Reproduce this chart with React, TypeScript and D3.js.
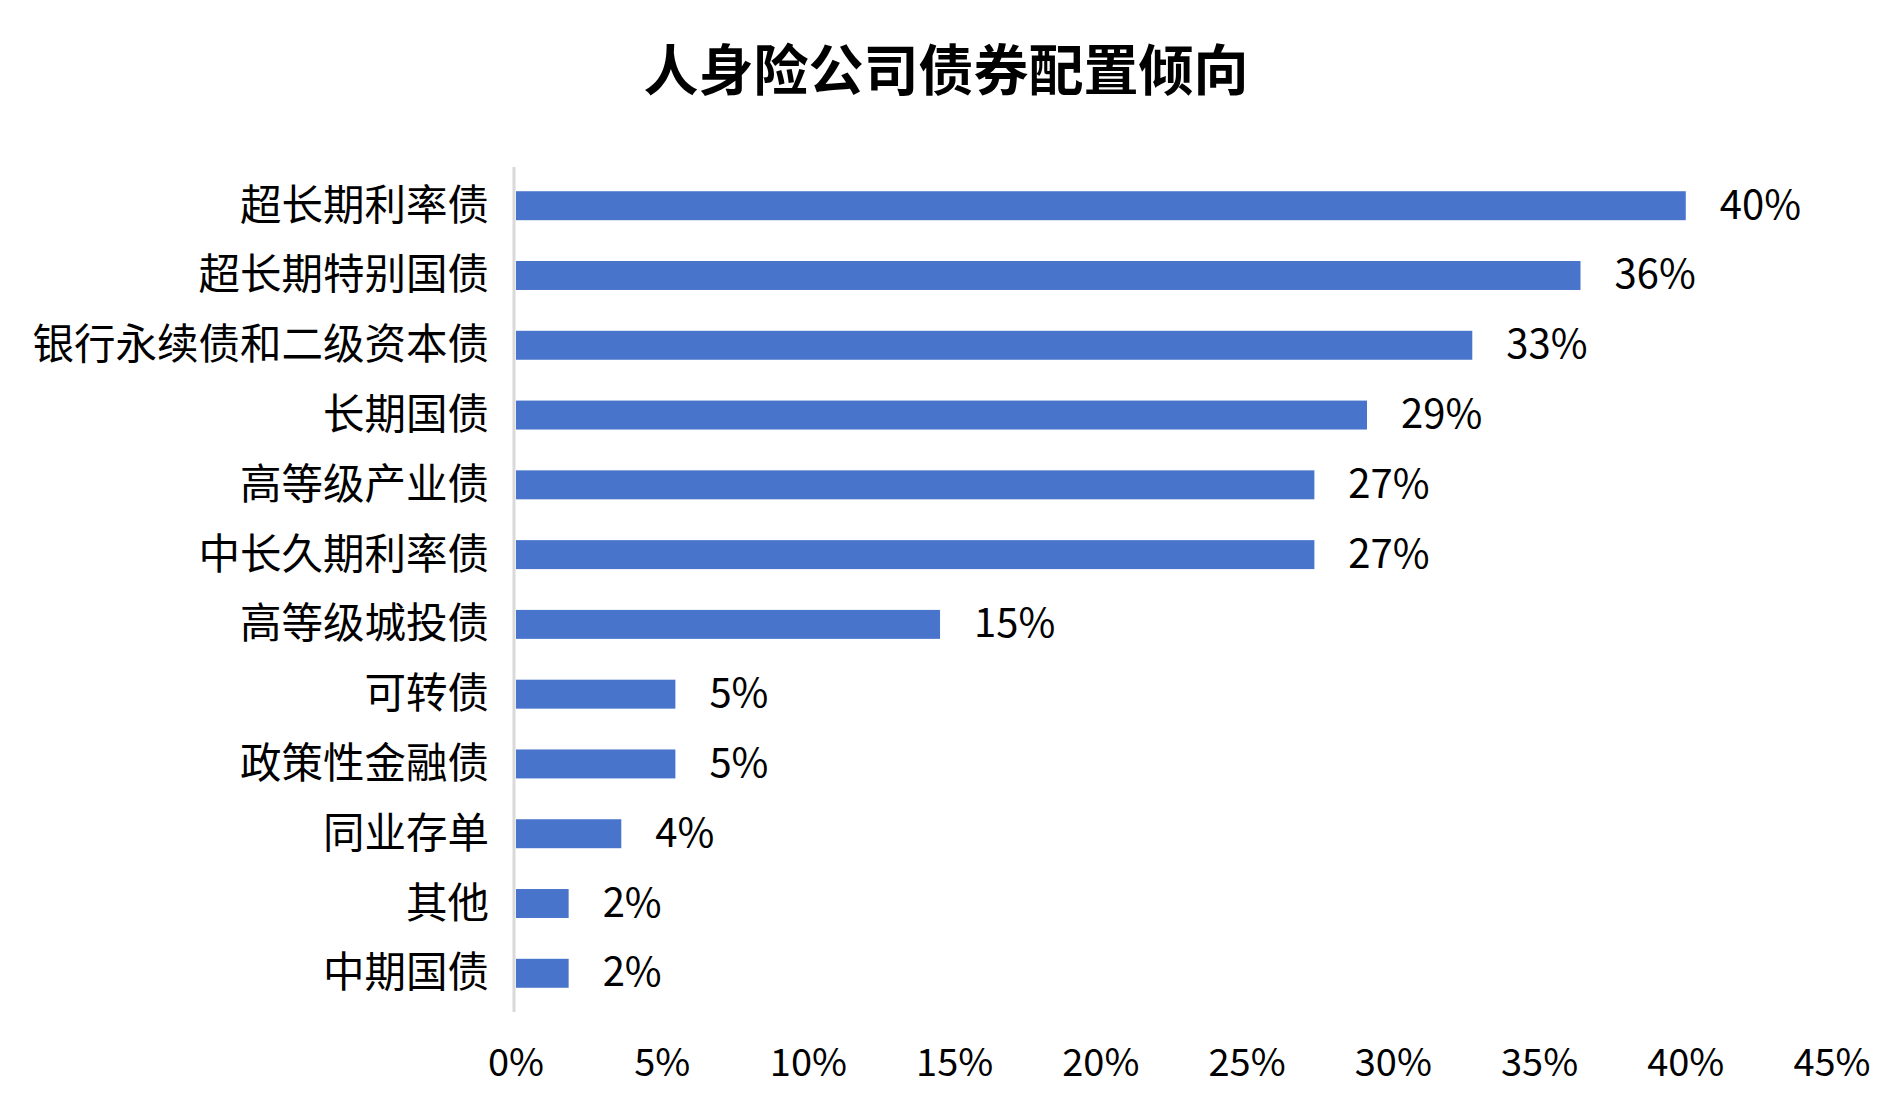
import { useEffect, useRef } from "react";
import * as d3 from "d3";

// Categories, top to bottom
const categories = [
    "超长期利率债",
    "超长期特别国债",
    "银行永续债和二级资本债",
    "长期国债",
    "高等级产业债",
    "中长久期利率债",
    "高等级城投债",
    "可转债",
    "政策性金融债",
    "同业存单",
    "其他",
    "中期国债",
];

// Share of companies (%)
const shares = [40.0, 36.4, 32.7, 29.1, 27.3, 27.3, 14.5, 5.45, 5.45, 3.6, 1.8, 1.8];

// X axis ticks (%)
const xTicks = [0, 5, 10, 15, 20, 25, 30, 35, 40, 45];

const title = "人身险公司债券配置倾向";

export default function App() {
    const svgRef = useRef<SVGSVGElement | null>(null);

    useEffect(() => {
        if (!svgRef.current) return;

        d3.select(svgRef.current).selectAll("*").remove();

        const width = 1892;
        const height = 1120;
        const margin = { top: 171, right: 60, bottom: 112, left: 516 };
        const font = "'Noto Sans CJK SC', 'Noto Sans', sans-serif";

        const data = categories.map((c, i) => ({ category: c, value: shares[i] }));

        const svg = d3
            .select(svgRef.current)
            .attr("width", width)
            .attr("height", height)
            .style("font-family", font);

        svg.append("rect").attr("width", width).attr("height", height).attr("fill", "#ffffff");

        // Scales
        const x = d3.scaleLinear().domain([0, 45]).range([margin.left, margin.left + 1316]);

        const y = d3
            .scaleBand()
            .domain(categories)
            .range([margin.top, height - margin.bottom])
            .paddingInner(0.585)
            .paddingOuter(0.29);

        // Title
        svg.append("text")
            .attr("x", 946)
            .attr("y", 66)
            .attr("text-anchor", "middle")
            .attr("dominant-baseline", "central")
            .attr("font-size", "55px")
            .attr("font-weight", "bold")
            .attr("fill", "#000000")
            .text(title);

        // Bars
        svg.selectAll(".bar")
            .data(data)
            .enter()
            .append("rect")
            .attr("class", "bar")
            .attr("x", x(0))
            .attr("y", (d) => y(d.category) || 0)
            .attr("width", (d) => x(d.value) - x(0))
            .attr("height", y.bandwidth())
            .attr("fill", "#4874cb");

        // Vertical axis line
        svg.append("line")
            .attr("x1", x(0) - 2)
            .attr("x2", x(0) - 2)
            .attr("y1", margin.top - 4)
            .attr("y2", height - margin.bottom + 4)
            .attr("stroke", "#d9d9d9")
            .attr("stroke-width", 3);

        // Category labels
        svg.selectAll(".cat")
            .data(data)
            .enter()
            .append("text")
            .attr("class", "cat")
            .attr("x", 489)
            .attr("y", (d) => (y(d.category) || 0) + y.bandwidth() / 2 - 4)
            .attr("text-anchor", "end")
            .attr("dominant-baseline", "central")
            .attr("font-size", "41.5px")
            .attr("fill", "#000000")
            .text((d) => d.category);

        // Value labels
        svg.selectAll(".label")
            .data(data)
            .enter()
            .append("text")
            .attr("class", "label")
            .attr("x", (d) => x(d.value) + 34)
            .attr("y", (d) => (y(d.category) || 0) + y.bandwidth() / 2 - 4)
            .attr("dominant-baseline", "central")
            .attr("font-size", "40px")
            .attr("fill", "#000000")
            .text((d) => `${Math.round(d.value)}%`);

        // X tick labels (no axis line, no tick marks)
        svg.selectAll(".tick-label")
            .data(xTicks)
            .enter()
            .append("text")
            .attr("class", "tick-label")
            .attr("x", (d) => x(d))
            .attr("y", 1059)
            .attr("text-anchor", "middle")
            .attr("dominant-baseline", "central")
            .attr("font-size", "38px")
            .attr("fill", "#000000")
            .text((d) => `${d}%`);
    }, []);

    return (
        <svg
            ref={svgRef}
            style={{ position: "absolute", left: 0, top: 0, display: "block" }}
        />
    );
}
